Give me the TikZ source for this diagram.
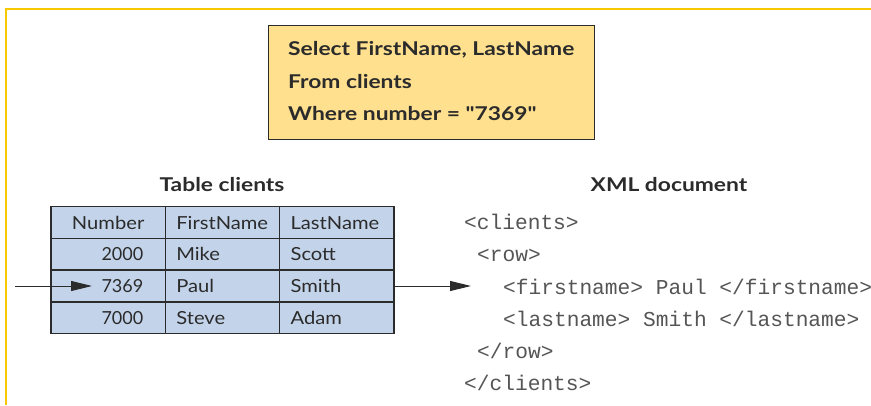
\documentclass[tikz,border=0pt]{standalone}
\usepackage{fontspec}
\setmainfont{Lato}
\newfontfamily\boldwide{Lato}[FakeStretch=1.2, Ligatures=TeXOff]
\newfontfamily\plainwide{Lato}[FakeStretch=1.12]
\newfontfamily\digitfont{Lato}[FakeStretch=1.0]
\newfontfamily\codefont{Liberation Mono}
\usetikzlibrary{arrows.meta}
\definecolor{framegold}{HTML}{F7C800}
\definecolor{queryfill}{HTML}{FFE08F}
\definecolor{cellfill}{HTML}{C3D4EA}
\definecolor{inkgray}{HTML}{2B2B2B}
\definecolor{codegray}{HTML}{555555}
\tikzset{
  frame/.style={framegold, line width=2.5pt},
  querybox/.style={draw=inkgray, line width=1.2pt, fill=queryfill},
  querytext/.style={anchor=west, font=\boldwide\bfseries\fontsize{19}{22}\selectfont, text=inkgray, inner sep=0pt},
  title/.style={font=\boldwide\bfseries\fontsize{19}{22}\selectfont, text=inkgray},
  cell/.style={draw=inkgray, line width=1.3pt, fill=cellfill, rectangle,
    minimum width=114.3pt, minimum height=31.75pt, inner xsep=11pt,
    text width=92.3pt, text height=13pt, text depth=0pt,
    font=\plainwide\fontsize{18}{21}\selectfont, text=inkgray},
  numcell/.style={cell, align=right, font=\digitfont\fontsize{18}{21}\selectfont,
    execute at end node={\hspace*{11pt}}},
  txtcell/.style={cell, align=left},
  headcell/.style={cell, align=center},
  codeline/.style={anchor=west, inner sep=0pt, font=\codefont\fontsize{21.2}{24}\selectfont, text=codegray},
  flow/.style={inkgray, line width=1pt, -{Triangle[length=21pt,width=10pt]}}
}
\begin{document}
\begin{tikzpicture}[x=1pt,y=-1pt]
\useasboundingbox (0,0) rectangle (871,405);
% outer frame (top and left edges)
\draw[frame] (871,9) -- (6,9) -- (6,405);

% query box
\node[querybox, minimum width=326pt, minimum height=114pt, anchor=north west] (query) at (268,25) {};
\node[querytext] (q1) at (288,50) {Select FirstName, LastName};
\node[querytext] (q2) at (288,82) {From clients};
\node[querytext] (q3) at (288,114) {Where number = "7369"};

% titles
\node[title] (ttable) at (222,185) {Table clients};
\node[title] (txml) at (669,185) {XML document};

% table
\node[headcell] (h1) at (108.15,222.5) {Number};
\node[txtcell]  (h2) at (222.45,222.5) {FirstName};
\node[txtcell]  (h3) at (336.75,222.5) {LastName};
\node[numcell] (r11) at (108.15,254.25) {2000};
\node[txtcell] (r12) at (222.45,254.25) {Mike};
\node[txtcell] (r13) at (336.75,254.25) {Scott};
\node[numcell] (r21) at (108.15,286) {7369};
\node[txtcell] (r22) at (222.45,286) {Paul};
\node[txtcell] (r23) at (336.75,286) {Smith};
\node[numcell] (r31) at (108.15,317.75) {7000};
\node[txtcell] (r32) at (222.45,317.75) {Steve};
\node[txtcell] (r33) at (336.75,317.75) {Adam};

% xml document
\node[codeline] (x1) at (464,222) {<clients>};
\node[codeline] (x2) at (477,255) {<row>};
\node[codeline] (x3) at (503,287) {<firstname> Paul </firstname>};
\node[codeline] (x4) at (503,319) {<lastname> Smith </lastname>};
\node[codeline] (x5) at (477,351) {</row>};
\node[codeline] (x6) at (464,383) {</clients>};

% arrows
\coordinate (inStart) at (15,286);
\coordinate (inTip) at (92,286);
\coordinate (outTip) at (471,286);
\draw[flow] (inStart) -- (inTip);
\draw[flow] (r23.east) -- (outTip);
\end{tikzpicture}
\end{document}
